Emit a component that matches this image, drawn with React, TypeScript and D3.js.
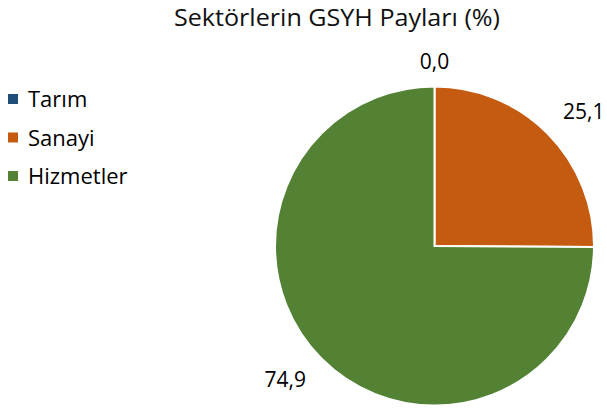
import React from "react";
import * as d3 from "d3";

const categories = ["Tarım", "Sanayi", "Hizmetler"];
const values = [0.0, 25.1, 74.9];
const labels = ["0,0", "25,1", "74,9"];
const colors = ["#1F4E79", "#C55A11", "#548235"];
const title = "Sektörlerin GSYH Payları (%)";

export default function App() {
  const W = 607, H = 410;
  const cx = 434.5, cy = 246, r = 159.5;
  const font = "'Open Sans', 'Noto Sans', sans-serif";
  const pie = d3.pie<number>().sort(null).value((d) => d)(values);
  const arc = d3.arc<d3.PieArcDatum<number>>().innerRadius(0).outerRadius(r);
  const legendY = d3.scalePoint<string>().domain(categories).range([99, 176]);
  return (
    <svg width={W} height={H} style={{ position: "absolute", left: 0, top: 0 }} fontFamily={font}>
      <rect width={W} height={H} fill="#fff" />
      <text x={337} y={26} textAnchor="middle" fontSize={23} fill="#111" textLength={326} lengthAdjust="spacingAndGlyphs">{title}</text>
      {categories.map((c, i) => (
        <g key={c}>
          <rect x={8} y={legendY(c)! - 5} width={10} height={10} fill={colors[i]} />
          <text x={28} y={legendY(c)! + 8} fontSize={22} fill="#000">{c}</text>
        </g>
      ))}
      <g transform={`translate(${cx},${cy})`}>
        {pie.map((p, i) => (
          <path key={i} d={arc(p) || ""} fill={colors[i]} stroke="#fff" strokeWidth={2} />
        ))}
        {pie.map((p, i) => {
          const a = (p.startAngle + p.endAngle) / 2;
          const s = Math.sin(a), c = Math.cos(a);
          const dy = r + 24.5 + 8.6 * Math.abs(s);
          const dx = r + 51;
          return (
            <text key={"l" + i} x={dx * s} y={-dy * c} dy="0.35em" textAnchor="middle" fontSize={21} fill="#000">
              {labels[i]}
            </text>
          );
        })}
      </g>
    </svg>
  );
}
